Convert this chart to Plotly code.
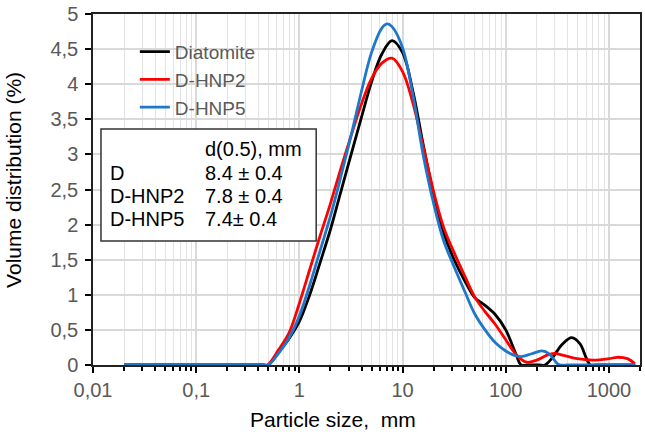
import plotly.graph_objects as go

# ---- data ----
series_names = ["Diatomite", "D-HNP2", "D-HNP5"]
series_colors = ["#000000", "#ff0000", "#1f77c9"]

diatomite_x = [0.02, 0.1, 0.3, 0.45, 0.5, 0.63, 0.79, 1.0, 1.26, 1.58, 2.0, 2.5, 3.16, 4.0, 5.0, 6.3, 7.9, 10,
               12.6, 15.8, 20, 25, 31.6, 40, 50, 63, 79, 100, 126, 141, 165, 210, 240, 282, 355, 437, 525, 603,
               660, 760, 1000, 1800]
diatomite_y = [0, 0, 0, 0, 0, 0.18, 0.37, 0.62, 1.0, 1.45, 1.93, 2.45, 2.99, 3.53, 4.03, 4.43, 4.62, 4.45,
               3.9, 3.15, 2.43, 1.88, 1.5, 1.2, 0.96, 0.85, 0.72, 0.5, 0.15, 0, 0, 0, 0, 0.1, 0.3, 0.39, 0.3, 0.1,
               0, 0, 0, 0]

hnp2_x = [0.02, 0.1, 0.3, 0.44, 0.49, 0.63, 0.79, 1.0, 1.26, 1.58, 2.0, 2.5, 3.16, 4.0, 5.0, 6.3, 7.9, 10,
          12.6, 15.8, 20, 25, 31.6, 40, 50, 63, 79, 100, 126, 158, 200, 251, 295, 355, 490, 708, 1000, 1200,
          1510, 1780]
hnp2_y = [0, 0, 0, 0, 0, 0.22, 0.45, 0.88, 1.36, 1.83, 2.3, 2.78, 3.26, 3.72, 4.08, 4.3, 4.37, 4.18,
          3.73, 3.12, 2.47, 1.96, 1.6, 1.27, 0.97, 0.76, 0.58, 0.36, 0.15, 0.04, 0.07, 0.14, 0.165, 0.14, 0.09,
          0.07, 0.09, 0.11, 0.09, 0.02]

hnp5_x = [0.02, 0.1, 0.3, 0.45, 0.5, 0.63, 0.79, 1.0, 1.26, 1.58, 2.0, 2.5, 3.16, 4.0, 5.0, 6.3, 7.08, 7.9, 10,
          12.6, 15.8, 20, 25, 31.6, 40, 50, 63, 79, 100, 126, 141, 178, 224, 263, 316, 340, 400, 1000, 1800]
hnp5_y = [0, 0, 0, 0, 0, 0.17, 0.38, 0.7, 1.14, 1.62, 2.12, 2.66, 3.26, 3.9, 4.45, 4.8, 4.86, 4.82, 4.52,
          3.85, 3.0, 2.3, 1.77, 1.4, 1.05, 0.73, 0.5, 0.32, 0.2, 0.13, 0.12, 0.16, 0.2, 0.16, 0.02, 0, 0, 0, 0]

x_tickvals = [0.01, 0.1, 1, 10, 100, 1000]
x_ticktext = ["0,01", "0,1", "1", "10", "100", "1000"]
y_tickvals = [0, 0.5, 1, 1.5, 2, 2.5, 3, 3.5, 4, 4.5, 5]
y_ticktext = ["0", "0,5", "1", "1,5", "2", "2,5", "3", "3,5", "4", "4,5", "5"]

table_header = "d(0.5), mm"
table_samples = ["D", "D-HNP2", "D-HNP5"]
table_values = ["8.4 ± 0.4", "7.8 ± 0.4", "7.4± 0.4"]

x_title = "Particle size,  mm"
y_title = "Volume distribution (%)"

# ---- figure ----
FONT = "Arial, 'Liberation Sans', sans-serif"
fig = go.Figure()
xs = [diatomite_x, hnp2_x, hnp5_x]
ys = [diatomite_y, hnp2_y, hnp5_y]
for name, color, x, y in zip(series_names, series_colors, xs, ys):
    fig.add_trace(go.Scatter(
        x=x, y=y, name=name, mode="lines",
        line=dict(color=color, width=2.8, shape="spline", smoothing=1.0),
    ))

grid_c = "#d9d9d9"
fig.update_layout(
    width=645, height=435,
    margin=dict(l=93, r=3, t=11, b=70),
    paper_bgcolor="white", plot_bgcolor="white",
    font=dict(family=FONT, size=20, color="#595959"),
    xaxis=dict(
        type="log", range=[-2, 3.301],
        tickmode="array", tickvals=x_tickvals, ticktext=x_ticktext,
        showgrid=True, gridcolor=grid_c, gridwidth=1.5,
        ticks="outside", ticklen=6, tickwidth=1.5, tickcolor="black",
        minor=dict(dtick="D1", showgrid=True, gridcolor="#e3e3e3", gridwidth=1,
                   ticks="outside", ticklen=4, tickwidth=1.5, tickcolor="black"),
        showline=True, linecolor="#222222", linewidth=1.5, mirror=True,
        tickfont=dict(size=20, color="#595959"),
        zeroline=False, layer="below traces",
    ),
    yaxis=dict(
        range=[0, 5], tickmode="array", tickvals=y_tickvals, ticktext=y_ticktext,
        showgrid=True, gridcolor=grid_c, gridwidth=1.5,
        ticks="outside", ticklen=6, tickwidth=1.5, tickcolor="black",
        ticklabelstandoff=3,
        showline=True, linecolor="#222222", linewidth=1.5, mirror=True,
        tickfont=dict(size=20, color="#595959"),
        zeroline=False, layer="below traces",
    ),
    legend=dict(
        x=(135 - 93) / 549, y=(365 - 30) / 354, xanchor="left", yanchor="top",
        bgcolor="rgba(0,0,0,0)", font=dict(size=19, color="#595959"),
    ),
    showlegend=True,
)

def px_x(p):
    return (p - 93) / 549

def px_y(p):
    return (365 - p) / 354

# table box
fig.add_shape(type="rect", xref="paper", yref="paper",
              x0=px_x(101), x1=px_x(317), y0=px_y(240), y1=px_y(127),
              line=dict(color="#333333", width=1.5), fillcolor="white", layer="above")

def add_text(txt, x, y, size=20, color="black", xanchor="left", angle=0):
    fig.add_annotation(text=txt, xref="paper", yref="paper", x=x, y=y,
                       xanchor=xanchor, yanchor="middle", showarrow=False,
                       textangle=angle, font=dict(family=FONT, size=size, color=color))

add_text(table_header, px_x(203), px_y(147))
row_y = [171, 195, 218]
for s, v, ry in zip(table_samples, table_values, row_y):
    add_text(s, px_x(108), px_y(ry))
    add_text(v, px_x(203), px_y(ry))

# axis titles
add_text(x_title, px_x(334), px_y(420), size=21, color="black", xanchor="center")
add_text(y_title, px_x(13), px_y(178), size=21, color="black", xanchor="center", angle=-90)

fig.write_html("out.html")
